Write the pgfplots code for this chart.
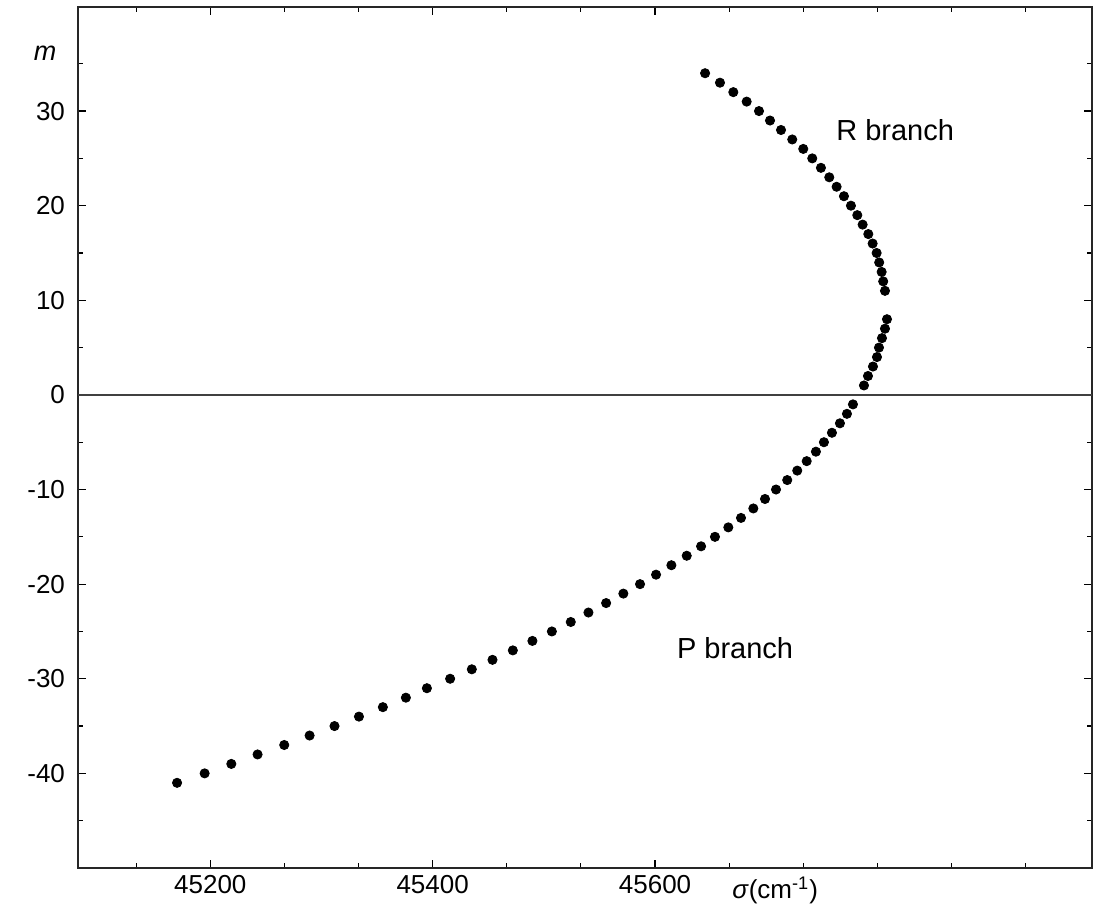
\documentclass[border=0pt]{standalone}
\usepackage{pgfplots}
\pgfplotsset{compat=1.18}
\usepackage{pgfplotstable}
\usepackage{fontspec}
\setmainfont{Liberation Sans}

\pgfplotstableread{
s m
45645.0 34
45658.4 33
45670.4 32
45682.4 31
45693.5 30
45703.4 29
45713.3 28
45723.4 27
45733.3 26
45741.4 25
45749.2 24
45756.7 23
45763.3 22
45769.9 21
45776.2 20
45781.9 19
45786.7 18
45791.8 17
45795.7 16
45799.3 15
45801.6 14
45803.8 13
45805.2 12
45806.8 11
45808.6 8
45806.8 7
45804.1 6
45801.4 5
45799.6 4
45796.0 3
45791.5 2
45787.9 1
}\Rdata

\pgfplotstableread{
s m
45778.0 -1
45772.6 -2
45766.3 -3
45759.1 -4
45751.9 -5
45744.7 -6
45736.4 -7
45727.9 -8
45718.9 -9
45708.8 -10
45698.9 -11
45688.4 -12
45677.3 -13
45665.9 -14
45653.9 -15
45641.4 -16
45628.5 -17
45614.7 -18
45600.9 -19
45586.5 -20
45571.5 -21
45556.0 -22
45540.1 -23
45524.2 -24
45507.2 -25
45489.7 -26
45472.1 -27
45453.8 -28
45435.2 -29
45415.7 -30
45394.8 -31
45375.9 -32
45355.2 -33
45333.7 -34
45311.7 -35
45289.3 -36
45266.5 -37
45242.5 -38
45218.9 -39
45194.9 -40
45170.1 -41
}\Pdata

\begin{document}
\begin{tikzpicture}
\begin{axis}[
  at={(0,0)}, anchor=south west,
  scale only axis, width=507pt, height=430.5pt,
  xmin=45081, xmax=45993, ymin=-50, ymax=41,
  scaled x ticks=false, scaled y ticks=false,
  xtick={45200,45400,45600}, xticklabels={45200,45400,45600},
  minor xtick={45133.3,45266.7,45333.3,45466.7,45533.3,45666.7,45733.3,45800,45866.7,45933.3},
  ytick={-40,-30,...,30}, yticklabels={-40,-30,-20,-10,0,10,20,30},
  minor ytick={-45,-35,...,35},
  tick align=inside,
  major tick length=4pt, minor tick length=2.5pt,
  tick style={black, line width=0.6pt},
  axis line style={line width=0.9pt, black!85},
  ticklabel style={font=\fontsize{13}{15}\selectfont},
  yticklabel style={xshift=-3pt},
  clip=false,
]
\addplot[black!75, line width=0.8pt] coordinates {(45081,0) (45993,0)};
\addplot[only marks, mark=*, mark size=2.3pt, black] table[x=s,y=m]{\Rdata};
\addplot[only marks, mark=*, mark size=2.3pt, black] table[x=s,y=m]{\Pdata};
\node[font=\fontsize{13.5}{15}\selectfont\itshape] at (axis cs:45081,36.1) [xshift=-16.5pt] {m};
\node[anchor=north, font=\fontsize{13}{15}\selectfont] at (axis cs:45708,-50) [yshift=-1pt] {\textit{σ}(cm\textsuperscript{-1})};
\node[font=\fontsize{14.5}{16}\selectfont] at (axis cs:45816,28) {R branch};
\node[font=\fontsize{14.5}{16}\selectfont] at (axis cs:45672,-26.75) {P branch};
\end{axis}
\path (-39pt,-22.5pt) rectangle (507.5pt,434pt);
\end{tikzpicture}
\end{document}
